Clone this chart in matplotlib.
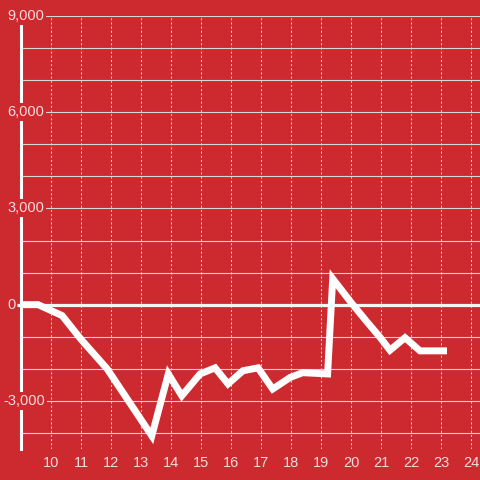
import matplotlib
matplotlib.use("Agg")
import matplotlib.pyplot as plt
from matplotlib.transforms import blended_transform_factory

# Data
x_vals = [9.0, 9.57, 10.37, 11.0, 11.87, 13.36, 13.91, 14.36, 14.97, 15.47, 15.9,
          16.4, 16.9, 17.39, 17.97, 18.39, 19.22, 19.39, 20.0, 20.5, 20.97, 21.3,
          21.8, 22.3, 23.2]
y_vals = [0, 0, -340, -1080, -2000, -4090, -2160, -2840, -2160, -1970, -2470,
          -2060, -1970, -2630, -2270, -2120, -2160, 810, 70, -500, -1020, -1420,
          -1030, -1440, -1440]
x_ticks = list(range(10, 25))
y_grid = list(range(-4000, 9001, 1000))
y_labels = [-3000, 0, 3000, 6000, 9000]

BG = '#cc2a2f'
TXT = '#f3dcdc'
GRID = '#d6d6d6'

fig = plt.figure(figsize=(4.8, 4.8), dpi=100)
fig.patch.set_facecolor(BG)
ax = fig.add_axes([21/480, 31/480, 459/480, 433/480])
ax.set_facecolor(BG)
ax.set_xlim(9, 24.3)
ax.set_ylim(-4500, 9000)

for s in ['top', 'right', 'bottom']:
    ax.spines[s].set_visible(False)
ax.spines['left'].set_color('white')
ax.spines['left'].set_linewidth(2.2)
ax.spines['left'].set_zorder(2)

ax.set_xticks(x_ticks)
ax.set_xticklabels([str(v) for v in x_ticks], color=TXT, fontsize=10.5,
                   family='Liberation Sans')
ax.tick_params(axis='x', length=0, pad=5)
ax.set_yticks(y_grid)
ax.set_yticklabels([])
ax.tick_params(axis='y', length=0)

ax.grid(axis='y', color=GRID, linewidth=0.8, zorder=1)
ax.grid(axis='x', color=GRID, linewidth=0.75, linestyle=(0, (2, 2)), zorder=1)
ax.set_axisbelow(True)

ax.plot([8.87, 24.3], [0, 0], color='#f5f5f5', linewidth=2.3, zorder=3,
        clip_on=False, solid_capstyle='butt')

ax.plot(x_vals, y_vals, color='white', linewidth=5, solid_joinstyle='miter',
        solid_capstyle='butt', zorder=5, clip_on=False)

trans_base = blended_transform_factory(fig.transFigure, ax.transData)
for v in y_labels:
    xpx = 3 if v < 0 else 7
    ax.text(xpx / 480, v, f"{v:,}", transform=trans_base, ha='left', va='center',
            color=TXT, fontsize=10.5, family='Liberation Sans', zorder=4,
            bbox=dict(facecolor=BG, edgecolor='none', pad=1.5))

fig.savefig('out.png', dpi=100, facecolor=BG)
